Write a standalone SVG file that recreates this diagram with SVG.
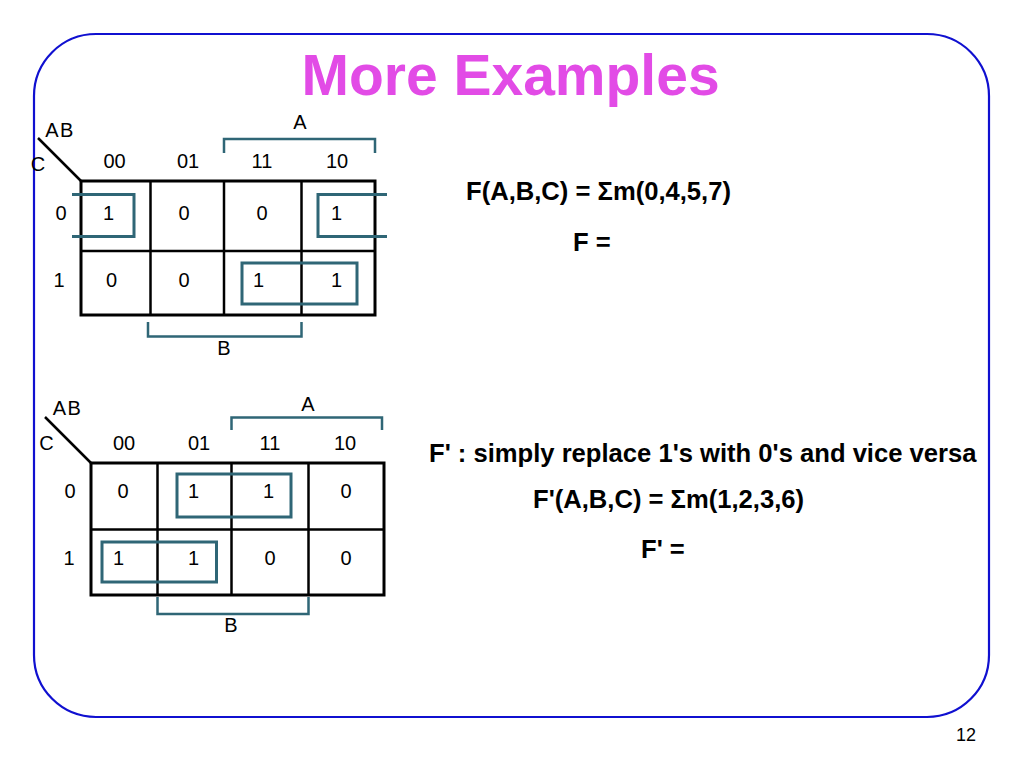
<svg xmlns="http://www.w3.org/2000/svg" width="1024" height="768" viewBox="0 0 1024 768">
<style>
.k{font-family:"Liberation Sans",Arial,sans-serif;font-size:20px;fill:#000;text-anchor:middle}
.ab{letter-spacing:1.5px}
.eq{font-family:"Liberation Sans",Arial,sans-serif;font-size:25.6px;font-weight:bold;fill:#000}
.grid{fill:none;stroke:#000;stroke-width:3}
.in{stroke:#000;stroke-width:2.5}
.tl{fill:none;stroke:#2f6676;stroke-width:3}
.br{fill:none;stroke:#2f6676;stroke-width:2.5}
</style>
<rect x="0" y="0" width="1024" height="768" fill="#fff"/>
<rect x="34" y="34" width="955" height="683" rx="62" ry="62" fill="none" stroke="#1010d0" stroke-width="2.2"/>
<text id="title" x="510.5" y="95" text-anchor="middle" font-family="Liberation Sans,Arial,sans-serif" font-size="57" font-weight="bold" fill="#e24be6">More Examples</text>

<g id="kmap1">
  <line x1="38" y1="138" x2="81" y2="181" stroke="#000" stroke-width="2.5"/>
  <rect class="grid" x="81" y="181" width="294" height="134"/>
  <line class="in" x1="150.5" y1="181" x2="150.5" y2="315"/>
  <line class="in" x1="224" y1="181" x2="224" y2="315"/>
  <line class="in" x1="301.5" y1="181" x2="301.5" y2="315"/>
  <line class="in" x1="81" y1="251" x2="375" y2="251"/>
  <polyline class="tl" points="72,194.5 134,194.5 134,236.5 72,236.5"/>
  <polyline class="tl" points="387,194.5 318,194.5 318,236.5 387,236.5"/>
  <rect class="tl" x="242" y="263" width="115" height="41"/>
  <polyline class="br" points="224,153 224,139 375,139 375,153"/>
  <polyline class="br" points="148,322 148,336.5 301.5,336.5 301.5,322"/>
  <text class="k" x="300" y="129">A</text>
  <text class="k ab" x="60" y="137">AB</text>
  <text class="k" x="38" y="170.5">C</text>
  <text class="k" x="114.5" y="168">00</text>
  <text class="k" x="188" y="168">01</text>
  <text class="k" x="262" y="168">11</text>
  <text class="k" x="337" y="168">10</text>
  <text class="k" x="61" y="220">0</text>
  <text class="k" x="59" y="287">1</text>
  <text class="k" x="108.5" y="220">1</text>
  <text class="k" x="184" y="220">0</text>
  <text class="k" x="262" y="220">0</text>
  <text class="k" x="336.5" y="220">1</text>
  <text class="k" x="111.5" y="287">0</text>
  <text class="k" x="184" y="287">0</text>
  <text class="k" x="258.5" y="287">1</text>
  <text class="k" x="336.5" y="287">1</text>
  <text class="k" x="224" y="355">B</text>
</g>

<g id="kmap2">
  <line x1="45" y1="417" x2="91" y2="463" stroke="#000" stroke-width="2.5"/>
  <rect class="grid" x="91" y="463" width="293" height="132"/>
  <line class="in" x1="157.5" y1="463" x2="157.5" y2="595"/>
  <line class="in" x1="231.5" y1="463" x2="231.5" y2="595"/>
  <line class="in" x1="308.5" y1="463" x2="308.5" y2="595"/>
  <line class="in" x1="91" y1="529.5" x2="384" y2="529.5"/>
  <rect class="tl" x="177" y="474" width="114" height="43"/>
  <rect class="tl" x="102" y="542" width="114.5" height="40"/>
  <polyline class="br" points="231.5,430 231.5,417.5 382,417.5 382,430"/>
  <polyline class="br" points="157.5,597 157.5,614 308.5,614 308.5,597"/>
  <text class="k" x="308" y="411">A</text>
  <text class="k ab" x="67.5" y="415">AB</text>
  <text class="k" x="46.5" y="450">C</text>
  <text class="k" x="124" y="450">00</text>
  <text class="k" x="199" y="450">01</text>
  <text class="k" x="270" y="450">11</text>
  <text class="k" x="345" y="450">10</text>
  <text class="k" x="70" y="498">0</text>
  <text class="k" x="69" y="565">1</text>
  <text class="k" x="123" y="498">0</text>
  <text class="k" x="193.5" y="498">1</text>
  <text class="k" x="268.5" y="498">1</text>
  <text class="k" x="346" y="498">0</text>
  <text class="k" x="118.5" y="565">1</text>
  <text class="k" x="193.5" y="565">1</text>
  <text class="k" x="270" y="565">0</text>
  <text class="k" x="346" y="565">0</text>
  <text class="k" x="231" y="632">B</text>
</g>

<g id="equations">
  <text class="eq" x="466" y="200">F(A,B,C) = Σm(0,4,5,7)</text>
  <text class="eq" x="573" y="251">F =</text>
  <text class="eq" x="429" y="462">F' : simply replace 1's with 0's and vice versa</text>
  <text class="eq" x="533" y="508">F'(A,B,C) = Σm(1,2,3,6)</text>
  <text class="eq" x="641" y="558">F' =</text>
</g>

<text id="page" x="976" y="741" text-anchor="end" font-family="Liberation Sans,Arial,sans-serif" font-size="18" fill="#000">12</text>
</svg>
